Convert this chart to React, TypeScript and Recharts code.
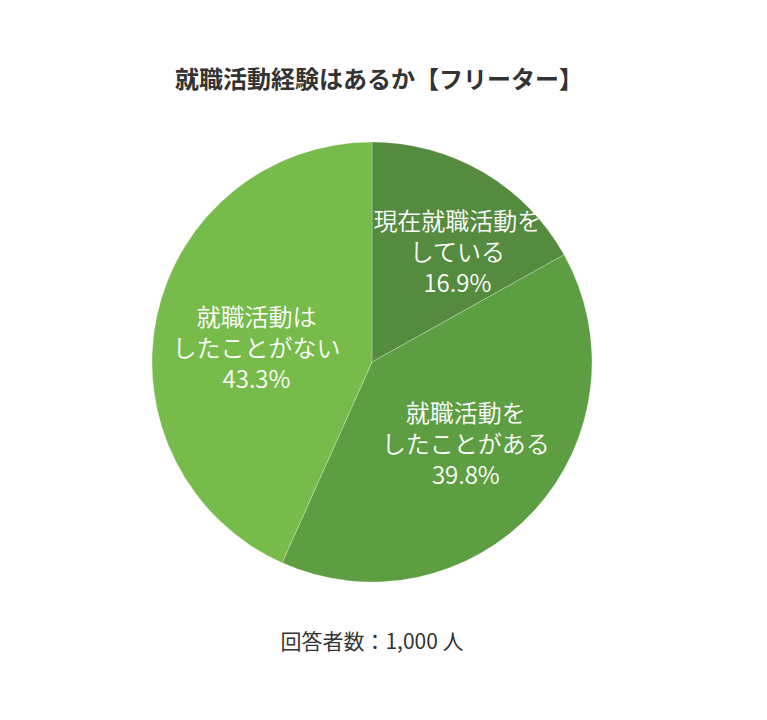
import React from "react";
import { PieChart, Pie, Cell } from "recharts";

const categories = ["現在就職活動をしている", "就職活動をしたことがある", "就職活動はしたことがない"];
const labelLines = [
  ["現在就職活動を", "している"],
  ["就職活動を", "したことがある"],
  ["就職活動は", "したことがない"],
];
const values = [16.9, 39.8, 43.3];
const colors = ["#558b3f", "#5e9e42", "#77bb4b"];
const title = "就職活動経験はあるか【フリーター】";
const footnote = "回答者数：1,000 人";

const data = categories.map((name, i) => ({ name, value: values[i], lines: labelLines[i] }));

const FONT = "'Noto Sans CJK JP', 'Noto Sans', sans-serif";
const RAD = Math.PI / 180;
const labelNudge = [
  { dx: 23, dy: -6 },
  { dx: 3, dy: -3 },
  { dx: 5, dy: 10 },
];

const renderLabel = (props: any) => {
  const { cx, cy, midAngle, outerRadius, index } = props;
  const r = outerRadius * 0.56;
  const x = cx + r * Math.cos(-midAngle * RAD) + labelNudge[index].dx;
  const y = cy + r * Math.sin(-midAngle * RAD) + labelNudge[index].dy;
  const lines = [...labelLines[index], `${values[index].toFixed(1)}%`];
  const lh = 31;
  const start = y - ((lines.length - 1) * lh) / 2;
  return (
    <text
      x={x}
      y={start}
      fill="#ffffff"
      textAnchor="middle"
      dominantBaseline="central"
      style={{ fontFamily: FONT, fontSize: 24, fontWeight: 350 }}
    >
      {lines.map((l, i) => (
        <tspan key={i} x={x} y={start + i * lh} dominantBaseline="central">
          {l}
        </tspan>
      ))}
    </text>
  );
};

export default function App() {
  return (
    <div style={{ position: "relative", width: 751, height: 704, background: "#ffffff", fontFamily: FONT }}>
      <div
        style={{
          position: "absolute",
          top: 55,
          left: 0,
          width: 742,
          textAlign: "center",
          fontSize: 24,
          fontWeight: 700,
          color: "#333333",
          lineHeight: "30px",
        }}
      >
        {title}
      </div>
      <PieChart width={751} height={704} style={{ position: "absolute", top: 0, left: 0 }}>
        <Pie
          data={data}
          dataKey="value"
          nameKey="name"
          cx={359}
          cy={349}
          outerRadius={220}
          startAngle={90}
          endAngle={-270}
          stroke="rgba(255,255,255,0.25)"
          strokeWidth={1}
          label={renderLabel}
          labelLine={false}
          isAnimationActive={false}
        >
          {data.map((d, i) => (
            <Cell key={d.name} fill={colors[i]} />
          ))}
        </Pie>
      </PieChart>
      <div
        style={{
          position: "absolute",
          top: 617,
          left: 0,
          width: 728,
          textAlign: "center",
          fontSize: 21,
          fontWeight: 400,
          color: "#333333",
          lineHeight: "30px",
        }}
      >
        {footnote}
      </div>
    </div>
  );
}
